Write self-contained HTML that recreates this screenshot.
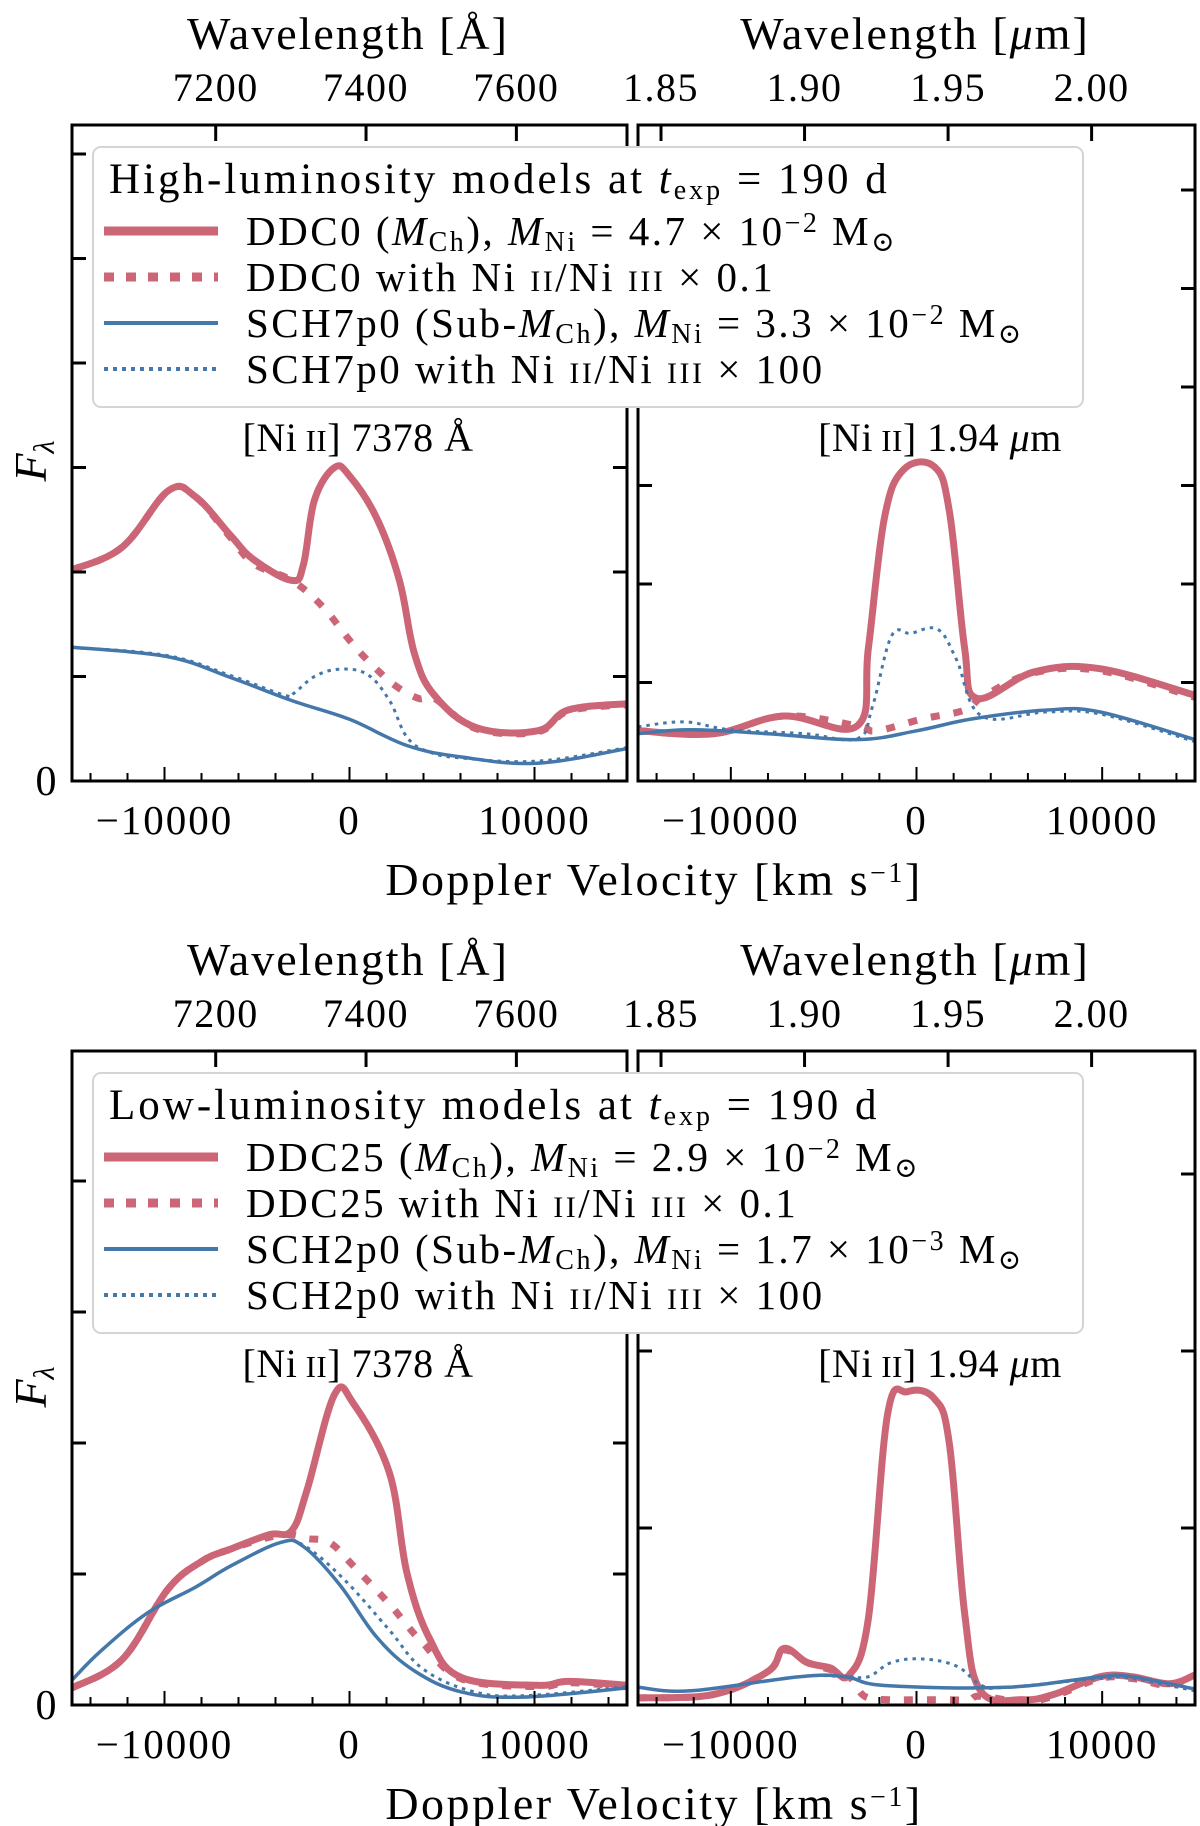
<!DOCTYPE html>
<html><head><meta charset="utf-8"><style>
html,body{margin:0;padding:0;background:#fff;}
svg{display:block;font-family:"Liberation Serif","DejaVu Serif",serif;}
</style></head><body>
<svg id="fig" width="1200" height="1826" viewBox="0 0 1200 1826" xmlns="http://www.w3.org/2000/svg"></svg>
<script>
// ---------- data ----------
const velTicks = [-10000, 0, 10000];
const wlTicksA = [7200, 7400, 7600];
const wlTicksU = [1.85, 1.90, 1.95, 2.00];
// top-left: [Ni II] 7378 (high luminosity)
const hlV_ddc0 = [-15000,-12270,-9780,-8320,-6430,-5190,-3130,-2490,-1890,-810,0,1460,2700,3510,4590,6860,10160,11840,15000];
const hlF_ddc0 = [2.02,2.24,2.78,2.72,2.35,2.12,1.92,2.07,2.69,3.0,2.92,2.52,1.92,1.22,0.82,0.51,0.48,0.68,0.74];
const hlV_ddc0x = [-15000,-12270,-9780,-8320,-6430,-5190,-3130,-1460,220,1460,2490,3730,4590,6860,10160,11840,15000];
const hlF_ddc0x = [2.02,2.24,2.78,2.72,2.33,2.08,1.92,1.67,1.30,1.07,0.91,0.79,0.79,0.50,0.47,0.67,0.73];
const hlV_sch = [-15000,-9840,-6430,-3130,0,3100,6050,10160,15000];
const hlF_sch = [1.28,1.19,0.99,0.77,0.59,0.34,0.23,0.17,0.31];
const hlV_schx = [-15000,-9840,-6430,-3500,-3000,-1890,-540,960,2160,3100,4270,6050,10160,15000];
const hlF_schx = [1.28,1.20,1.01,0.82,0.84,1.00,1.07,1.02,0.77,0.42,0.28,0.22,0.19,0.32];
// top-right: [Ni II] 1.94 um (high luminosity)
const hrV_ddc0 = [-15000,-10920,-7140,-3190,-2590,-1730,-700,970,1780,2590,3240,6380,9890,15000];
const hrF_ddc0 = [0.51,0.48,0.66,0.56,1.35,2.67,3.16,3.19,2.73,1.35,0.84,1.11,1.14,0.87];
const hrV_ddc0x = [-15000,-10920,-7140,-3190,-2160,320,2590,3680,6380,9890,15000];
const hrF_ddc0x = [0.51,0.48,0.66,0.56,0.51,0.63,0.72,0.87,1.10,1.12,0.85];
const hrV_sch = [-15000,-12160,-8000,-3190,0,3000,6970,9890,15000];
const hrF_sch = [0.48,0.52,0.48,0.42,0.51,0.63,0.72,0.70,0.42];
const hrV_schx = [-15000,-12500,-10000,-6000,-3190,-2380,-1350,-300,1140,2160,3510,6970,9890,15000];
const hrF_schx = [0.55,0.60,0.52,0.48,0.43,0.75,1.47,1.50,1.54,1.23,0.66,0.70,0.68,0.40];
// bottom-left: [Ni II] 7378 (low luminosity)
const llV_ddc = [-15000,-12270,-9840,-7950,-6430,-4350,-3130,-2300,-810,220,2160,3100,4350,6050,10160,11840,15000];
const llF_ddc = [0.13,0.35,0.88,1.10,1.19,1.30,1.33,1.64,2.37,2.30,1.77,1.01,0.50,0.21,0.15,0.18,0.15];
const llV_ddcx = [-15000,-12270,-9840,-7950,-6430,-4350,-3130,-2300,-1070,220,2160,3100,3930,6050,10160,11840,15000];
const llF_ddcx = [0.13,0.35,0.88,1.10,1.19,1.28,1.30,1.27,1.24,1.06,0.77,0.61,0.48,0.20,0.14,0.17,0.14];
const llV_sch = [-15000,-13460,-10950,-8320,-6430,-3740,-2490,-540,1460,3510,6050,9320,15000];
const llF_sch = [0.19,0.41,0.70,0.90,1.06,1.24,1.21,0.92,0.52,0.26,0.10,0.06,0.13];
const llV_schx = [-15000,-13460,-10950,-8320,-6430,-3740,-2490,-300,2160,3930,6500,9320,15000];
const llF_schx = [0.19,0.41,0.70,0.90,1.06,1.24,1.22,0.96,0.57,0.28,0.11,0.07,0.14];
// bottom-right: [Ni II] 1.94 um (low luminosity)
const lrV_ddc = [-15000,-10920,-8000,-7140,-5890,-4650,-3620,-2590,-1560,-490,970,1780,2590,3450,5730,7400,9890,11600,13620,15000];
const lrF_ddc = [0.04,0.06,0.19,0.32,0.24,0.21,0.17,0.49,1.64,1.77,1.73,1.47,0.52,0.08,0.03,0.06,0.16,0.16,0.12,0.17];
const lrV_ddcx = [-15000,-10920,-8000,-7140,-5890,-4650,-3620,-2800,-1500,0,1500,2800,3450,5730,7400,9890,11600,13620,15000];
const lrF_ddcx = [0.04,0.06,0.19,0.31,0.24,0.20,0.16,0.05,0.03,0.03,0.03,0.03,0.05,0.02,0.05,0.15,0.15,0.11,0.16];
const lrV_sch = [-15000,-12160,-6300,-3830,-1730,4840,9890,11600,15000];
const lrF_sch = [0.10,0.08,0.16,0.16,0.11,0.10,0.16,0.16,0.09];
const lrV_schx = [-15000,-12160,-6300,-3830,-2590,-1350,320,2160,3510,4840,9890,11600,15000];
const lrF_schx = [0.10,0.08,0.16,0.16,0.16,0.24,0.26,0.22,0.11,0.10,0.15,0.15,0.08];

const RED = "#CC6677", BLUE = "#4477AA";
const svg = document.getElementById('fig');
const NS = "http://www.w3.org/2000/svg";
function mk(tag, attrs, parent){ const e = document.createElementNS(NS, tag); for (const k in attrs) e.setAttribute(k, attrs[k]); (parent||svg).appendChild(e); return e; }
function txt(s, x, y, size, anchor, parent, ls){ const t = mk('text', {x:x, y:y, 'font-size':size, 'text-anchor':anchor||'middle', fill:'#000', 'letter-spacing': ls||0}, parent); t.innerHTML = s; return t; }

function smoothPath(pts){
  let d = 'M' + pts[0][0].toFixed(1) + ',' + pts[0][1].toFixed(1);
  for (let i = 0; i < pts.length - 1; i++) {
    const p0 = pts[Math.max(0, i-1)], p1 = pts[i], p2 = pts[i+1], p3 = pts[Math.min(pts.length-1, i+2)];
    const t = 0.18;
    const c1x = p1[0] + (p2[0]-p0[0])*t, c1y = p1[1] + (p2[1]-p0[1])*t;
    const c2x = p2[0] - (p3[0]-p1[0])*t, c2y = p2[1] - (p3[1]-p1[1])*t;
    d += ' C' + c1x.toFixed(1) + ',' + c1y.toFixed(1) + ' ' + c2x.toFixed(1) + ',' + c2y.toFixed(1) + ' ' + p2[0].toFixed(1) + ',' + p2[1].toFixed(1);
  }
  return d;
}

function panel(cfg){
  const g = mk('g', {});
  
  
  const x0 = cfg.x0, x1 = cfg.x1, y0 = cfg.y0, y1 = cfg.y1;
  const xs = v => x0 + (v + 15000) / 30000 * (x1 - x0);
  const ys = f => y1 - f * cfg.unit;
  const clipId = 'c' + cfg.name;
  const cp = mk('clipPath', {id: clipId}, g);
  mk('rect', {x:x0, y:y0, width:x1-x0, height:y1-y0}, cp);
  const lines = mk('g', {'clip-path':'url(#'+clipId+')'}, g);
  cfg.series.forEach(s => {
    const pts = s.v.map((v,i)=>[xs(v), ys(s.f[i])]);
    const p = mk('path', {d:smoothPath(pts), fill:'none', stroke:s.c, 'stroke-width':s.w, 'stroke-linejoin':'round', 'stroke-linecap': s.dash?'butt':'round'}, lines);
    if (s.dash) p.setAttribute('stroke-dasharray', s.dash);
    
    
  });
  const fr = mk('rect', {x:x0, y:y0, width:x1-x0, height:y1-y0, fill:'none', stroke:'#000', 'stroke-width':3}, g);
  
  
  for (let v = -14000; v <= 14000; v += 2000) {
    const major = v % 10000 === 0;
    mk('line', {x1:xs(v), x2:xs(v), y1:y1, y2:y1 - (major?14:8), stroke:'#000', 'stroke-width':2}, g);
  }
  velTicks.forEach(v => {
    const t = txt(String(v).replace('-', '\u2212'), xs(v), y1 + 53, 41, 'middle', g, 2);
    
    
  });
  cfg.wl.forEach(w => {
    const v = (w / cfg.lam0 - 1) * 299792;
    mk('line', {x1:xs(v), x2:xs(v), y1:y0, y2:y0 + 16, stroke:'#000', 'stroke-width':3}, g);
    const t = txt(cfg.fmt(w), xs(v), y0 - 24, 40, 'middle', g, 1.5);
    
    
  });
  for (let k = 1; k * cfg.unit < (y1 - y0); k++) {
    mk('line', {x1:x0, x2:x0 + 14, y1:ys(k), y2:ys(k), stroke:'#000', 'stroke-width':3}, g);
    mk('line', {x1:x1, x2:x1 - 14, y1:ys(k), y2:ys(k), stroke:'#000', 'stroke-width':3}, g);
  }
  const tl = txt(cfg.wlLabel, cfg.wlX, y0 - 76, 46, 'middle', g, 2);
  
  
  const an = txt(cfg.ann, cfg.annX, cfg.annY, 40, 'middle', g, 0.5);
  
  
}

const sub = (a)=>'<tspan font-size="28" baseline-shift="-22%">'+a+'</tspan>';
const sup = (a)=>'<tspan font-size="28" baseline-shift="45%">'+a+'</tspan>';
const MCh = '<tspan font-style="italic">M</tspan>'+sub('Ch');
const MNi = '<tspan font-style="italic">M</tspan>'+sub('Ni');
const sc = s => '<tspan font-size="30">'+s+'</tspan>';
const sun = 'M<tspan font-size="28" baseline-shift="-22%">⊙</tspan>';

function figureRow(yTop, yBot, data, legend){
  panel({name:'panel-left-'+yTop, x0:72, x1:627, y0:yTop, y1:yBot, unit:data.lu, lam0:7378, wl:wlTicksA, fmt:w=>String(w),
    wlLabel:'Wavelength [Å]', wlX:348, ann:'[Ni<tspan font-size="31"> II</tspan>] 7378 Å', annX:358, annY:yTop+326, series:data.left});
  panel({name:'panel-right-'+yTop, x0:638, x1:1195, y0:yTop, y1:yBot, unit:data.ru, lam0:1.939, wl:wlTicksU, fmt:w=>w.toFixed(2),
    wlLabel:'Wavelength [<tspan font-style="italic">μ</tspan>m]', wlX:915, ann:'[Ni<tspan font-size="31"> II</tspan>] 1.94 <tspan font-style="italic">μ</tspan>m', annX:940, annY:yTop+326, series:data.right});
  const z = txt('0', 46, yBot + 14, 42, 'middle');  
  const fl = txt('<tspan font-style="italic">F</tspan><tspan font-size="30" font-style="italic" baseline-shift="-25%">λ</tspan>', 0, 0, 46, 'middle');
  fl.setAttribute('transform', 'translate(46,' + (yTop + 336) + ') rotate(-90)');
   
  const dl = txt('Doppler Velocity [km s'+sup('−1')+']', 654, yBot + 114, 46, 'middle', null, 2.5);
   
  const lg = mk('g', {});
  
  
  mk('rect', {x:93, y:yTop+22, width:990, height:260, rx:8, fill:'#fff', stroke:'#d4d4d4', 'stroke-width':2}, lg);
  const tt = txt(legend.title, 109, yTop+68, 43, 'start', lg, 3);
   
  const ent = [[RED,9,null],[RED,9,'10,12'],[BLUE,4,null],[BLUE,4,'4,5']];
  legend.items.forEach((s, i) => {
    const yy = yTop + 106 + i * 46;
    const ln = mk('line', {x1:104, x2:218, y1:yy, y2:yy, stroke:ent[i][0], 'stroke-width':ent[i][1]}, lg);
    if (ent[i][2]) ln.setAttribute('stroke-dasharray', ent[i][2]);
     
    const t = txt(s, 246, yy + 14, 41, 'start', lg, 2.5);
     
  });
}

figureRow(125, 781, {
  lu:104.5, ru:98.5,
  left:[{name:'ddc0-solid',v:hlV_ddc0,f:hlF_ddc0,c:RED,w:7},{name:'ddc0-scaled',v:hlV_ddc0x,f:hlF_ddc0x,c:RED,w:7,dash:'9,14'},
        {name:'sch7p0-solid',v:hlV_sch,f:hlF_sch,c:BLUE,w:3.5},{name:'sch7p0-scaled',v:hlV_schx,f:hlF_schx,c:BLUE,w:3,dash:'3.5,5'}],
  right:[{name:'ddc0-solid',v:hrV_ddc0,f:hrF_ddc0,c:RED,w:7},{name:'ddc0-scaled',v:hrV_ddc0x,f:hrF_ddc0x,c:RED,w:7,dash:'9,14'},
        {name:'sch7p0-solid',v:hrV_sch,f:hrF_sch,c:BLUE,w:3.5},{name:'sch7p0-scaled',v:hrV_schx,f:hrF_schx,c:BLUE,w:3,dash:'3.5,5'}]
}, {title:'High-luminosity models at <tspan font-style="italic">t</tspan>'+sub('exp')+' = 190 d',
  items:['DDC0 ('+MCh+'), '+MNi+' = 4.7 × 10'+sup('−2')+' '+sun,
         'DDC0 with Ni '+sc('II')+'/Ni '+sc('III')+' × 0.1',
         'SCH7p0 (Sub-'+MCh+'), '+MNi+' = 3.3 × 10'+sup('−2')+' '+sun,
         'SCH7p0 with Ni '+sc('II')+'/Ni '+sc('III')+' × 100']});

figureRow(1051, 1705, {
  lu:131, ru:177,
  left:[{name:'ddc25-solid',v:llV_ddc,f:llF_ddc,c:RED,w:7},{name:'ddc25-scaled',v:llV_ddcx,f:llF_ddcx,c:RED,w:7,dash:'9,14'},
        {name:'sch2p0-solid',v:llV_sch,f:llF_sch,c:BLUE,w:3.5},{name:'sch2p0-scaled',v:llV_schx,f:llF_schx,c:BLUE,w:3,dash:'3.5,5'}],
  right:[{name:'ddc25-solid',v:lrV_ddc,f:lrF_ddc,c:RED,w:7},{name:'ddc25-scaled',v:lrV_ddcx,f:lrF_ddcx,c:RED,w:7,dash:'9,14'},
        {name:'sch2p0-solid',v:lrV_sch,f:lrF_sch,c:BLUE,w:3.5},{name:'sch2p0-scaled',v:lrV_schx,f:lrF_schx,c:BLUE,w:3,dash:'3.5,5'}]
}, {title:'Low-luminosity models at <tspan font-style="italic">t</tspan>'+sub('exp')+' = 190 d',
  items:['DDC25 ('+MCh+'), '+MNi+' = 2.9 × 10'+sup('−2')+' '+sun,
         'DDC25 with Ni '+sc('II')+'/Ni '+sc('III')+' × 0.1',
         'SCH2p0 (Sub-'+MCh+'), '+MNi+' = 1.7 × 10'+sup('−3')+' '+sun,
         'SCH2p0 with Ni '+sc('II')+'/Ni '+sc('III')+' × 100']});
</script>
</body></html>
